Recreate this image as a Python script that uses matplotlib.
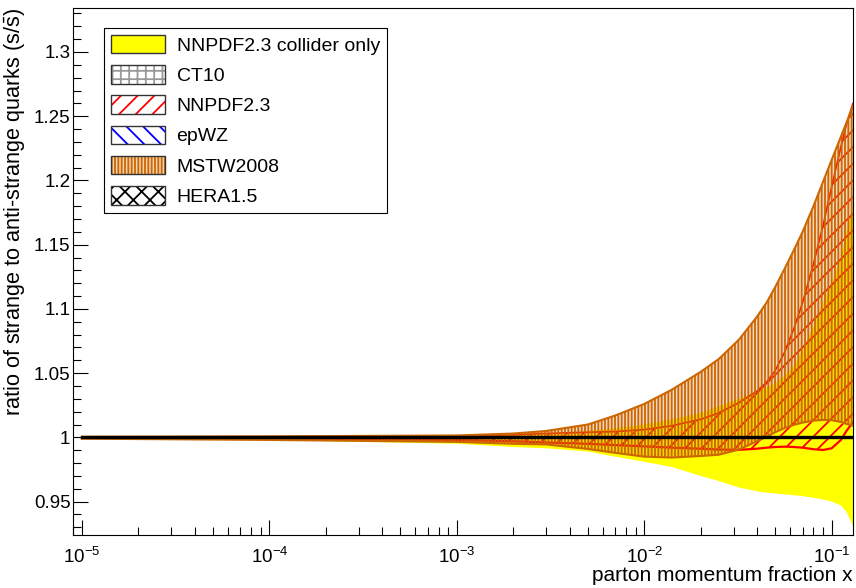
import matplotlib
matplotlib.use('Agg')
import matplotlib.pyplot as plt
from matplotlib.patches import Patch
from matplotlib.ticker import LogLocator, MultipleLocator, FuncFormatter, NullFormatter

plt.rcParams['font.family'] = ['Liberation Sans', 'DejaVu Sans']
plt.rcParams['mathtext.fontset'] = 'custom'
plt.rcParams['mathtext.rm'] = 'Liberation Sans'
plt.rcParams['mathtext.it'] = 'Liberation Sans:italic'
plt.rcParams['mathtext.bf'] = 'Liberation Sans:bold'
plt.rcParams['hatch.linewidth'] = 1.3

# parton momentum fraction x
x = [1e-5, 1e-4, 1e-3, 2e-3, 3e-3, 5e-3, 7e-3, 1e-2, 1.4e-2, 2e-2, 2.5e-2, 3.2e-2,
     4e-2, 4.5e-2, 5e-2, 5.6e-2, 6.3e-2, 7e-2, 8e-2, 9e-2, 0.1, 0.112, 0.12, 0.13]

# NNPDF2.3 collider only (yellow)
coll_lo = [0.9995, 0.998, 0.995, 0.9925, 0.9915, 0.989, 0.985, 0.981, 0.977, 0.970, 0.966, 0.961,
           0.958, 0.957, 0.9563, 0.9557, 0.955, 0.9542, 0.953, 0.9517, 0.950, 0.947, 0.942, 0.931]
coll_hi = [1.0005, 1.001, 1.0015, 1.002, 1.003, 1.005, 1.007, 1.010, 1.014, 1.019, 1.024, 1.030,
           1.036, 1.039, 1.042, 1.048, 1.056, 1.068, 1.087, 1.105, 1.12, 1.14, 1.16, 1.18]

# NNPDF2.3 (red hatch)
nnpdf_lo = [0.9995, 0.999, 0.998, 0.997, 0.996, 0.995, 0.994, 0.993, 0.992, 0.9912, 0.9905, 0.9903,
            0.9912, 0.992, 0.9925, 0.9928, 0.9925, 0.992, 0.9908, 0.9902, 0.9915, 0.998, 1.005, 1.012]
nnpdf_hi = [1.0003, 1.0005, 1.001, 1.002, 1.003, 1.004, 1.0045, 1.006, 1.009, 1.014, 1.019, 1.027,
            1.036, 1.043, 1.052, 1.066, 1.085, 1.105, 1.135, 1.165, 1.195, 1.226, 1.244, 1.26]

# MSTW2008 (orange hatch)
mstw_lo = [0.999, 0.998, 0.9965, 0.995, 0.9945, 0.991, 0.988, 0.985, 0.9843, 0.9855, 0.9865, 0.9905,
           0.997, 1.0005, 1.004, 1.0072, 1.0098, 1.0115, 1.013, 1.0136, 1.0134, 1.012, 1.0105, 1.009]
mstw_hi = [1.0005, 1.0008, 1.0015, 1.003, 1.005, 1.010, 1.017, 1.026, 1.037, 1.051, 1.061, 1.076,
           1.094, 1.105, 1.117, 1.131, 1.146, 1.160, 1.180, 1.199, 1.216, 1.234, 1.245, 1.258]

# CT10, epWZ, HERA1.5 assume s = sbar
sym_x = [1e-5, 0.13]
sym_ratio = [1.0, 1.0]

labels = ['NNPDF2.3 collider only', 'CT10', 'NNPDF2.3', 'epWZ', 'MSTW2008', 'HERA1.5']

orange = '#cc6600'

fig = plt.figure(figsize=(8.56, 5.88), dpi=100)
ax = fig.add_axes([0.0856, 0.0901, 0.9109, 0.8958])

ax.fill_between(x, coll_lo, coll_hi, facecolor='#ffff00', edgecolor='none', lw=0, zorder=1)
ax.plot(sym_x, sym_ratio, color='#888888', lw=1, zorder=1.5)

ax.fill_between(x, nnpdf_lo, nnpdf_hi, facecolor='none', edgecolor='red', hatch='//',
                lw=0, zorder=2)
ax.plot(x, nnpdf_lo, color='red', lw=1.6, zorder=2.1)
ax.plot(x, nnpdf_hi, color='red', lw=1.2, zorder=2.1)

ax.plot(sym_x, sym_ratio, color='blue', lw=1, zorder=2.5)

# light tint under the dense orange hatch
ax.fill_between(x, mstw_lo, mstw_hi, facecolor=(0.85, 0.45, 0.1, 0.28), edgecolor='none',
                lw=0, zorder=2.9)
ax.fill_between(x, mstw_lo, mstw_hi, facecolor='none', edgecolor=orange, hatch='|||||',
                lw=0, zorder=3)
ax.plot(x, mstw_lo, color=orange, lw=1.5, zorder=3.1)
ax.plot(x, mstw_hi, color=orange, lw=1.5, zorder=3.1)

ax.plot(sym_x, sym_ratio, color='black', lw=2.4, zorder=4)

ax.set_xscale('log')
ax.set_xlim(9e-6, 0.13)
ax.set_ylim(0.924, 1.334)

ax.xaxis.set_major_locator(LogLocator(base=10, numticks=10))
ax.xaxis.set_minor_locator(LogLocator(base=10, subs=range(2, 10), numticks=20))
ax.xaxis.set_minor_formatter(NullFormatter())
ax.yaxis.set_major_locator(MultipleLocator(0.05))
ax.yaxis.set_minor_locator(MultipleLocator(0.01))
ax.yaxis.set_major_formatter(FuncFormatter(lambda v, p: '%g' % round(v, 3)))

ax.tick_params(which='both', direction='in', top=False, right=False, width=0.8)
ax.tick_params(which='major', length=11, labelsize=13.5)
ax.tick_params(axis='x', which='major', pad=8.5)
ax.tick_params(axis='y', which='major', pad=2)
ax.tick_params(which='minor', length=5.5)
for s in ax.spines.values():
    s.set_linewidth(0.8)

ax.set_xlabel('parton momentum fraction x', fontsize=15, loc='right')
ax.xaxis.set_label_coords(1.0, -0.058)
ax.set_ylabel('ratio of strange to anti-strange quarks (s/$\\bar{\\mathrm{s}}$)',
              fontsize=15.6, loc='top')
ax.yaxis.set_label_coords(-0.058, 1.0)

edge = dict(facecolor='none', edgecolor='#333333', lw=1)
handles = [
    Patch(facecolor='#ffff00', edgecolor='#333333', lw=1),
    (Patch(facecolor='white', edgecolor='#999999', hatch='++', lw=0), Patch(**edge)),
    (Patch(facecolor='white', edgecolor='red', hatch='//', lw=0), Patch(**edge)),
    (Patch(facecolor='white', edgecolor='blue', hatch='\\\\', lw=0), Patch(**edge)),
    (Patch(facecolor='#f3d2b0', edgecolor=orange, hatch='|||||', lw=0), Patch(**edge)),
    (Patch(facecolor='white', edgecolor='black', hatch='xx', lw=0), Patch(**edge)),
]
leg = ax.legend(handles, labels, loc='upper left', bbox_to_anchor=(0.0394, 0.963),
                borderaxespad=0, fontsize=14, handlelength=2.8, handleheight=1.1,
                handletextpad=0.57, labelspacing=0.53, borderpad=0.36,
                fancybox=False, framealpha=1, edgecolor='black')
leg.get_frame().set_linewidth(0.8)

fig.savefig('out.png', dpi=100)
